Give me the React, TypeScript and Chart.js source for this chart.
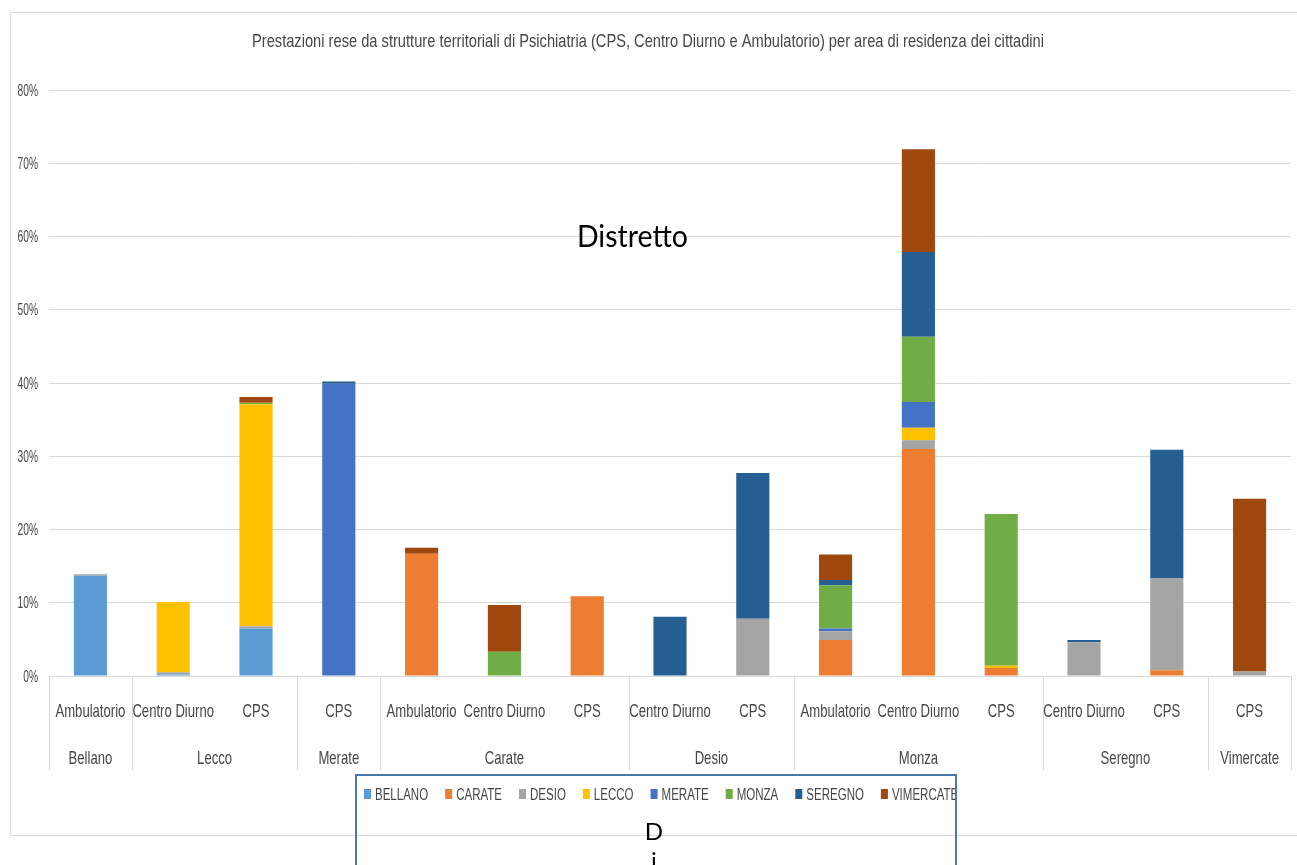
import { useEffect, useRef } from 'react';
import { Chart, registerables } from 'chart.js';

Chart.register(...registerables);

// ---- data ----
const categories = [
  'Ambulatorio', 'Centro Diurno', 'CPS', 'CPS', 'Ambulatorio', 'Centro Diurno', 'CPS',
  'Centro Diurno', 'CPS', 'Ambulatorio', 'Centro Diurno', 'CPS', 'Centro Diurno', 'CPS', 'CPS',
];
const groupNames = ['Bellano', 'Lecco', 'Merate', 'Carate', 'Desio', 'Monza', 'Seregno', 'Vimercate'];
const groupSizes = [1, 2, 1, 3, 2, 3, 2, 1];

const seriesNames = ['BELLANO', 'CARATE', 'DESIO', 'LECCO', 'MERATE', 'MONZA', 'SEREGNO', 'VIMERCATE'];
const seriesColors = ['#5B9BD5', '#ED7D31', '#A5A5A5', '#FFC000', '#4472C4', '#70AD47', '#255E91', '#9E480E'];

const bellano = [13.7, 0.2, 6.5, 0, 0, 0, 0, 0, 0, 0, 0, 0, 0, 0, 0];
const carate = [0, 0, 0, 0, 16.7, 0, 10.9, 0, 0, 4.9, 31.0, 1.1, 0, 0.8, 0];
const desio = [0.2, 0.3, 0.3, 0, 0, 0, 0, 0, 7.8, 1.2, 1.2, 0, 4.6, 12.5, 0.6];
const lecco = [0, 9.6, 30.3, 0, 0, 0, 0, 0, 0, 0, 1.7, 0.3, 0, 0, 0];
const merate = [0, 0, 0, 39.9, 0, 0, 0, 0, 0, 0.4, 3.5, 0, 0, 0, 0];
const monza = [0, 0, 0.2, 0, 0, 3.3, 0, 0, 0, 5.9, 8.9, 20.7, 0, 0, 0];
const seregno = [0, 0, 0, 0.3, 0, 0, 0, 8.1, 19.9, 0.7, 11.6, 0, 0.3, 17.6, 0];
const vimercate = [0, 0, 0.8, 0, 0.8, 6.4, 0, 0, 0, 3.5, 14.0, 0, 0, 0, 23.6];
const seriesValues = [bellano, carate, desio, lecco, merate, monza, seregno, vimercate];

const yMin = 0;
const yMax = 80;
const yStep = 10;

const titleText =
  'Prestazioni rese da strutture territoriali di Psichiatria (CPS, Centro Diurno e Ambulatorio) per area di residenza dei cittadini';
const overlayText = 'Distretto';

// ---- styling ----
const FONT = '"Liberation Sans", Arial, sans-serif';
const FONT2 = 'Lato, "Open Sans", sans-serif';
const TEXT = '#474747';
const GRID = '#d9d9d9';

function drawText(
  ctx: CanvasRenderingContext2D,
  text: string,
  x: number,
  y: number,
  size: number,
  sx: number,
  align: CanvasTextAlign,
  color: string,
  family: string = FONT,
) {
  ctx.save();
  ctx.font = `${size}px ${family}`;
  ctx.fillStyle = color;
  ctx.textAlign = align;
  ctx.textBaseline = 'alphabetic';
  ctx.translate(x, y);
  ctx.scale(sx, 1);
  ctx.fillText(text, 0, 0);
  ctx.restore();
}

function fitScale(ctx: CanvasRenderingContext2D, text: string, size: number, family: string, width: number) {
  ctx.save();
  ctx.font = `${size}px ${family}`;
  const w = ctx.measureText(text).width;
  ctx.restore();
  return width / w;
}

const decorPlugin = {
  id: 'decor',
  afterDraw(chart: any) {
    const ctx: CanvasRenderingContext2D = chart.ctx;
    const xs = chart.scales.x;
    const ys = chart.scales.y;

    // outer frame
    ctx.save();
    ctx.strokeStyle = GRID;
    ctx.lineWidth = 1;
    ctx.strokeRect(10.5, 12.5, 1300, 823);
    ctx.restore();

    // title
    const tsx = fitScale(ctx, titleText, 19, FONT, 792);
    drawText(ctx, titleText, 648, 47, 19, tsx, 'center', TEXT);

    // y tick labels
    ys.ticks.forEach((t: any) => {
      const py = ys.getPixelForValue(t.value);
      drawText(ctx, `${t.value}%`, 38, py + 5.5, 16, 0.64, 'right', TEXT);
    });

    // x category labels and group separators
    const half = (xs.getPixelForValue(1) - xs.getPixelForValue(0)) / 2;
    const axisY = ys.getPixelForValue(0);
    ctx.save();
    ctx.strokeStyle = GRID;
    ctx.lineWidth = 1;
    let idx = 0;
    const edges: number[] = [];
    groupSizes.forEach((n, g) => {
      const left = xs.getPixelForValue(idx) - half;
      const right = xs.getPixelForValue(idx + n - 1) + half;
      edges.push(left);
      if (g === groupSizes.length - 1) edges.push(right);
      drawText(ctx, groupNames[g], (left + right) / 2, 764, 19, 0.69, 'center', TEXT);
      idx += n;
    });
    edges.forEach((e) => {
      const px = Math.round(e) + 0.5;
      ctx.beginPath();
      ctx.moveTo(px, axisY);
      ctx.lineTo(px, 770);
      ctx.stroke();
    });
    ctx.restore();
    categories.forEach((c, i) => {
      drawText(ctx, c, xs.getPixelForValue(i), 717, 19, 0.69, 'center', TEXT);
    });

    // overlay text in plot
    const osx = fitScale(ctx, overlayText, 30, FONT2, 111);
    drawText(ctx, overlayText, 577, 247, 30, osx, 'left', '#000000', FONT2);

    // legend box
    ctx.save();
    ctx.strokeStyle = '#4a78ab';
    ctx.lineWidth = 2;
    ctx.strokeRect(356, 775, 600, 120);
    ctx.beginPath();
    ctx.rect(357, 776, 598, 120);
    ctx.clip();
    let lx = 364;
    chart.data.datasets.forEach((ds: any) => {
      ctx.fillStyle = ds.backgroundColor;
      ctx.fillRect(lx, 789, 7, 10);
      ctx.font = `16px ${FONT}`;
      const w = ctx.measureText(ds.label).width * 0.72;
      drawText(ctx, ds.label, lx + 11, 800, 16, 0.72, 'left', TEXT);
      lx += 11 + w + 17;
    });
    ctx.restore();

    // wrapped legend title fragments
    drawText(ctx, 'D', 654, 840, 24, 1, 'center', '#000000', FONT2);
    drawText(ctx, 'i', 654, 869, 24, 1, 'center', '#000000', FONT2);
  },
};

export default function App() {
  const ref = useRef<HTMLCanvasElement>(null);

  useEffect(() => {
    if (!ref.current) return;
    const chart = new Chart(ref.current, {
      type: 'bar',
      data: {
        labels: categories,
        datasets: seriesNames.map((name, i) => ({
          label: name,
          data: seriesValues[i],
          backgroundColor: seriesColors[i],
          borderWidth: 0,
          barPercentage: 0.4,
          categoryPercentage: 1,
        })),
      },
      options: {
        animation: false,
        responsive: false,
        devicePixelRatio: 1,
        layout: { padding: { left: 49, right: 6, top: 90, bottom: 189 } },
        plugins: {
          legend: { display: false },
          title: { display: false },
          tooltip: { enabled: false },
        },
        scales: {
          x: {
            stacked: true,
            display: false,
          },
          y: {
            stacked: true,
            min: yMin,
            max: yMax,
            ticks: { display: false, stepSize: yStep },
            border: { display: false },
            grid: { color: GRID, lineWidth: 1, drawTicks: false },
            afterFit: (s: any) => {
              s.width = 0;
            },
          },
        },
      },
      plugins: [decorPlugin],
    });
    return () => chart.destroy();
  }, []);

  return (
    <div style={{ position: 'absolute', left: 0, top: 0, width: 1297, height: 865, background: '#ffffff' }}>
      <canvas ref={ref} width={1297} height={865} style={{ display: 'block', width: 1297, height: 865 }} />
    </div>
  );
}
